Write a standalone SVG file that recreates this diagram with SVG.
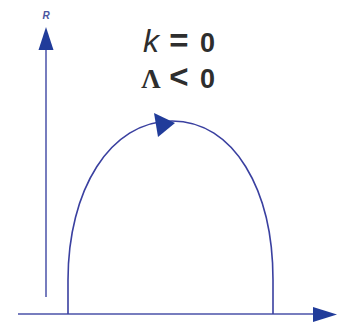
<svg xmlns="http://www.w3.org/2000/svg" width="350" height="329" viewBox="0 0 350 329">
<style>
.ax{stroke:#4a52a8;stroke-width:1.5;fill:none}
.cv{stroke:#3a40a0;stroke-width:1.6;fill:none}
.ah{fill:#213c9a}
.lbl{font-family:"Liberation Sans",Arial,sans-serif;fill:#2e2e2e;text-anchor:middle}
.srf{font-family:"Liberation Serif","Times New Roman",serif}
</style>
<rect width="350" height="329" fill="#fff"/>
<g id="axes">
<g id="r-axis">
<line class="ax" x1="46" y1="297" x2="46" y2="48"/>
<polygon class="ah" points="46,27 38.5,50 53.5,50"/>
<text x="46" y="19" text-anchor="middle" font-family="Liberation Sans,Arial,sans-serif" font-style="italic" font-weight="bold" font-size="10" fill="#4a55a0">R</text>
</g>
<g id="t-axis">
<line class="ax" x1="18" y1="314" x2="315" y2="314"/>
<polygon class="ah" points="337,314.5 313,307 313,322"/>
</g>
</g>
<g id="connectors">
<path id="cycle" class="cv" d="M68,314 L68,280 C68,190 110,121 172,121 C234,121 273,190 273,280 L273,314"/>
<polygon class="ah" points="175,123 154,113 158,137"/>
</g>
<g id="labels">
<text class="lbl" x="151" y="52" font-size="32" font-style="italic" fill="#444">k</text>
<text class="lbl" x="179" y="52" font-size="33" font-weight="bold">=</text>
<text class="lbl" x="207.5" y="52" font-size="27" font-weight="bold">0</text>
<text class="lbl srf" x="151" y="88" font-size="27" font-weight="bold">Λ</text>
<text class="lbl" x="179" y="88" font-size="33" font-weight="bold">&lt;</text>
<text class="lbl" x="207.5" y="88" font-size="27" font-weight="bold">0</text>
</g>
</svg>
